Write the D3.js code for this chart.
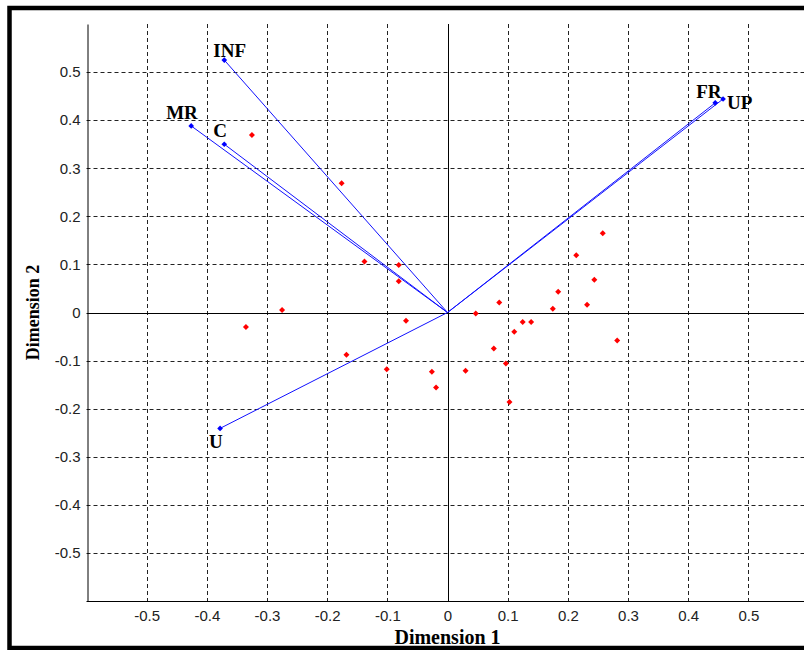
<!DOCTYPE html>
<meta charset="utf-8">

<!-- Load d3.js -->
<script src="https://d3js.org/d3.v7.min.js"></script>

<style>
  body { margin: 0; background: #fff; }
  .tick-label { font-family: "Liberation Sans", Arial, sans-serif; font-size: 15px; fill: #222; }
  .title { font-family: "Liberation Serif", "Times New Roman", serif; font-weight: bold; fill: #000; }
  .vlabel { font-family: "Liberation Serif", "Times New Roman", serif; font-weight: bold; font-size: 19px; fill: #000; }
</style>

<div id="my_dataviz"></div>

<script>

// variable loadings (blue vectors)
var varNames = ["INF", "MR", "C", "FR", "UP", "U"];
var varX = [-0.371, -0.426, -0.371, 0.445, 0.458, -0.378];
var varY = [0.525, 0.388, 0.350, 0.436, 0.444, -0.241];

// observation scores (red points)
var obsX = [-0.325, -0.176, -0.138, -0.081, -0.081, -0.275, -0.335, -0.069, -0.168, -0.101,
            -0.026, -0.019, 0.047, 0.086, 0.030, 0.077, 0.097, 0.103, 0.111, 0.125,
            0.139, 0.175, 0.184, 0.214, 0.232, 0.244, 0.258, 0.282];
var obsY = [0.369, 0.269, 0.106, 0.099, 0.065, 0.005, -0.030, -0.017, -0.088, -0.118,
            -0.123, -0.156, -0.002, 0.021, -0.121, -0.075, -0.106, -0.186, -0.040, -0.020,
            -0.020, 0.008, 0.043, 0.119, 0.016, 0.068, 0.165, -0.058];

// tick values for both axes
var tickVals = [-0.5, -0.4, -0.3, -0.2, -0.1, 0, 0.1, 0.2, 0.3, 0.4, 0.5];

var W = 804, H = 650;

var svg = d3.select("#my_dataviz")
  .append("svg")
    .attr("width", W)
    .attr("height", H);

// outer black frame (right side runs off the picture)
svg.append("rect")
  .attr("x", 9.5).attr("y", 8)
  .attr("width", 830).attr("height", 640)
  .attr("fill", "none")
  .attr("stroke", "#000")
  .attr("stroke-width", 4.5);

var x = d3.scaleLinear().domain([-0.6, 0.6]).range([86.5, 808.5]);
var y = d3.scaleLinear().domain([-0.6, 0.6]).range([601, 24]);

// matlab style labels: plain hyphen, "0" for zero
function fmt(d) { return d === 0 ? "0" : d.toFixed(1); }

// dashed grid
svg.selectAll(".vgrid")
  .data(tickVals.filter(function(d) { return d !== 0; }))
  .enter().append("line")
    .attr("x1", function(d) { return Math.round(x(d)) + 0.5; })
    .attr("x2", function(d) { return Math.round(x(d)) + 0.5; })
    .attr("y1", y(0.6)).attr("y2", y(-0.6))
    .attr("stroke", "#222").attr("stroke-dasharray", "4,3");

svg.selectAll(".hgrid")
  .data(tickVals.filter(function(d) { return d !== 0; }))
  .enter().append("line")
    .attr("y1", function(d) { return Math.round(y(d)) + 0.5; })
    .attr("y2", function(d) { return Math.round(y(d)) + 0.5; })
    .attr("x1", x(-0.6)).attr("x2", W)
    .attr("stroke", "#222").attr("stroke-dasharray", "4,3");

// zero lines
svg.append("line")
  .attr("x1", Math.round(x(0)) + 0.5).attr("x2", Math.round(x(0)) + 0.5)
  .attr("y1", y(0.6)).attr("y2", y(-0.6))
  .attr("stroke", "#000");
svg.append("line")
  .attr("y1", Math.round(y(0)) + 0.5).attr("y2", Math.round(y(0)) + 0.5)
  .attr("x1", x(-0.6)).attr("x2", W)
  .attr("stroke", "#000");

// X axis
var xAxis = svg.append("g")
  .attr("transform", "translate(0," + (Math.round(y(-0.6)) + 0.5) + ")")
  .call(d3.axisBottom(x).tickValues(tickVals).tickSize(0).tickPadding(9).tickFormat(fmt));
xAxis.select(".domain").attr("stroke", "#000").attr("d", "M" + x(-0.6) + ",0H" + (W + 5));
xAxis.selectAll("text").attr("class", "tick-label").attr("font-size", null).attr("font-family", null);

// Y axis
var yAxis = svg.append("g")
  .attr("transform", "translate(" + (Math.round(x(-0.6)) + 0.5) + ",0)")
  .call(d3.axisLeft(y).tickValues(tickVals).tickSize(0).tickPadding(7).tickFormat(fmt));
yAxis.select(".domain").attr("stroke", "#000");
yAxis.selectAll("text").attr("class", "tick-label").attr("font-size", null).attr("font-family", null);

// axis titles
svg.append("text")
  .attr("class", "title")
  .attr("x", x(0)).attr("y", 644)
  .attr("text-anchor", "middle")
  .style("font-size", "20px")
  .text("Dimension 1");

svg.append("text")
  .attr("class", "title")
  .attr("transform", "translate(39," + y(0) + ") rotate(-90)")
  .attr("text-anchor", "middle")
  .style("font-size", "18px")
  .text("Dimension 2");

// vectors from the origin
var vars = varNames.map(function(n, i) { return {name: n, x: varX[i], y: varY[i]}; });

svg.selectAll(".vec")
  .data(vars)
  .enter().append("line")
    .attr("x1", x(0)).attr("y1", y(0))
    .attr("x2", function(d) { return x(d.x); })
    .attr("y2", function(d) { return y(d.y); })
    .attr("stroke", "#1010ff")
    .attr("stroke-width", 1);

svg.selectAll(".vecdot")
  .data(vars)
  .enter().append("path")
    .attr("d", d3.symbol().type(d3.symbolSquare).size(16))
    .attr("transform", function(d) { return "translate(" + x(d.x) + "," + y(d.y) + ") rotate(45)"; })
    .attr("fill", "#0000ff");

// label offsets (pixels) from each vector tip
var labelOff = {INF: [-11, -3], MR: [-25, -7], C: [-11, -7], FR: [-19, -5], UP: [4, 10], U: [-11, 20]};

svg.selectAll(".vlabel")
  .data(vars)
  .enter().append("text")
    .attr("class", "vlabel")
    .attr("x", function(d) { return x(d.x) + labelOff[d.name][0]; })
    .attr("y", function(d) { return y(d.y) + labelOff[d.name][1]; })
    .text(function(d) { return d.name; });

// observation points
svg.selectAll(".obs")
  .data(obsX.map(function(v, i) { return [v, obsY[i]]; }))
  .enter().append("path")
    .attr("d", d3.symbol().type(d3.symbolSquare).size(18))
    .attr("transform", function(d) { return "translate(" + x(d[0]) + "," + y(d[1]) + ") rotate(45)"; })
    .attr("fill", "#ff0000");

</script>
